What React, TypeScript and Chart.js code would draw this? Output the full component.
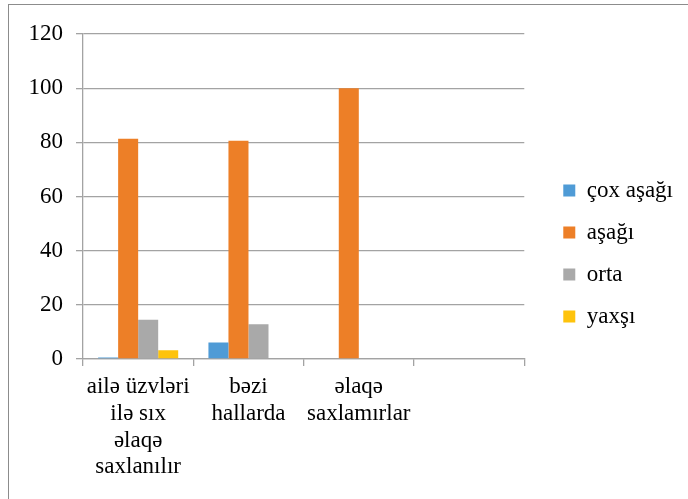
import React, { useEffect, useRef } from "react";
import { Chart, registerables } from "chart.js";

Chart.register(...registerables);

const categories: (string | string[])[] = [
  ["ailə üzvləri", "ilə sıx", "əlaqə", "saxlanılır"],
  ["bəzi", "hallarda"],
  ["əlaqə", "saxlamırlar"],
  "",
];
const seriesNames = ["çox aşağı", "aşağı", "orta", "yaxşı"];
const coxAsagi = [0.6, 6.1, 0, null];
const asagi = [81.3, 80.6, 100, null];
const orta = [14.5, 12.8, 0, null];
const yaxsi = [3.2, 0, 0, null];
const colors = ["#4f9bd6", "#ed7f27", "#a9a9a9", "#fec30c"];
const yTicks = [0, 20, 40, 60, 80, 100, 120];

const FONT = "'Liberation Serif', 'Times New Roman', serif";
const GRID = "#a3a3a3";

export default function App() {
  const ref = useRef<HTMLCanvasElement | null>(null);
  useEffect(() => {
    if (!ref.current) return;
    const values = [coxAsagi, asagi, orta, yaxsi];
    const chart = new Chart(ref.current, {
      type: "bar",
      data: {
        labels: categories,
        datasets: values.map((d, i) => ({
          label: seriesNames[i],
          data: d,
          backgroundColor: colors[i],
          borderWidth: 0,
          categoryPercentage: 0.726,
          barPercentage: 1,
        })),
      },
      options: {
        responsive: false,
        animation: false,
        layout: { padding: { top: 29, right: 5, left: 0, bottom: 26 } },
        plugins: {
          tooltip: { enabled: false },
          legend: {
            position: "right",
            maxWidth: 220,
            labels: {
              boxWidth: 12,
              boxHeight: 12,
              padding: 19,
              color: "#000",
              font: { family: FONT, size: 23 },
            },
          },
        },
        scales: {
          x: {
            grid: {
              drawOnChartArea: false,
              offset: true,
              tickLength: 7,
              color: GRID,
              lineWidth: 1.3,
            },
            border: { display: true, color: GRID, width: 1.3 },
            ticks: {
              color: "#000",
              padding: 8,
              maxRotation: 0,
              autoSkip: false,
              font: { family: FONT, size: 23, lineHeight: 1.16 },
            },
            afterFit: (s: any) => {
              s.height = 114;
            },
          },
          y: {
            min: 0,
            max: 120,
            afterBuildTicks: (s: any) => {
              s.ticks = yTicks.map((v) => ({ value: v }));
            },
            grid: { color: GRID, tickLength: 7, lineWidth: 1.3 },
            border: { display: true, color: GRID, width: 1.3 },
            ticks: {
              color: "#000",
              padding: 13,
              font: { family: FONT, size: 23 },
            },
            afterFit: (s: any) => {
              s.width = 74;
            },
          },
          pad: {
            type: "linear",
            position: "right",
            display: true,
            grid: { display: false },
            border: { display: false },
            ticks: { display: false },
            afterFit: (s: any) => {
              s.width = 20;
            },
          },
        },
      },
    } as any);
    return () => chart.destroy();
  }, []);
  return (
    <div
      style={{
        position: "absolute",
        left: 8,
        top: 4,
        width: 680,
        height: 495,
        borderTop: "1px solid #8c8c8c",
        borderLeft: "1px solid #8c8c8c",
        boxSizing: "border-box",
        background: "#fff",
      }}
    >
      <canvas ref={ref} width={679} height={494} style={{ display: "block" }} />
    </div>
  );
}
